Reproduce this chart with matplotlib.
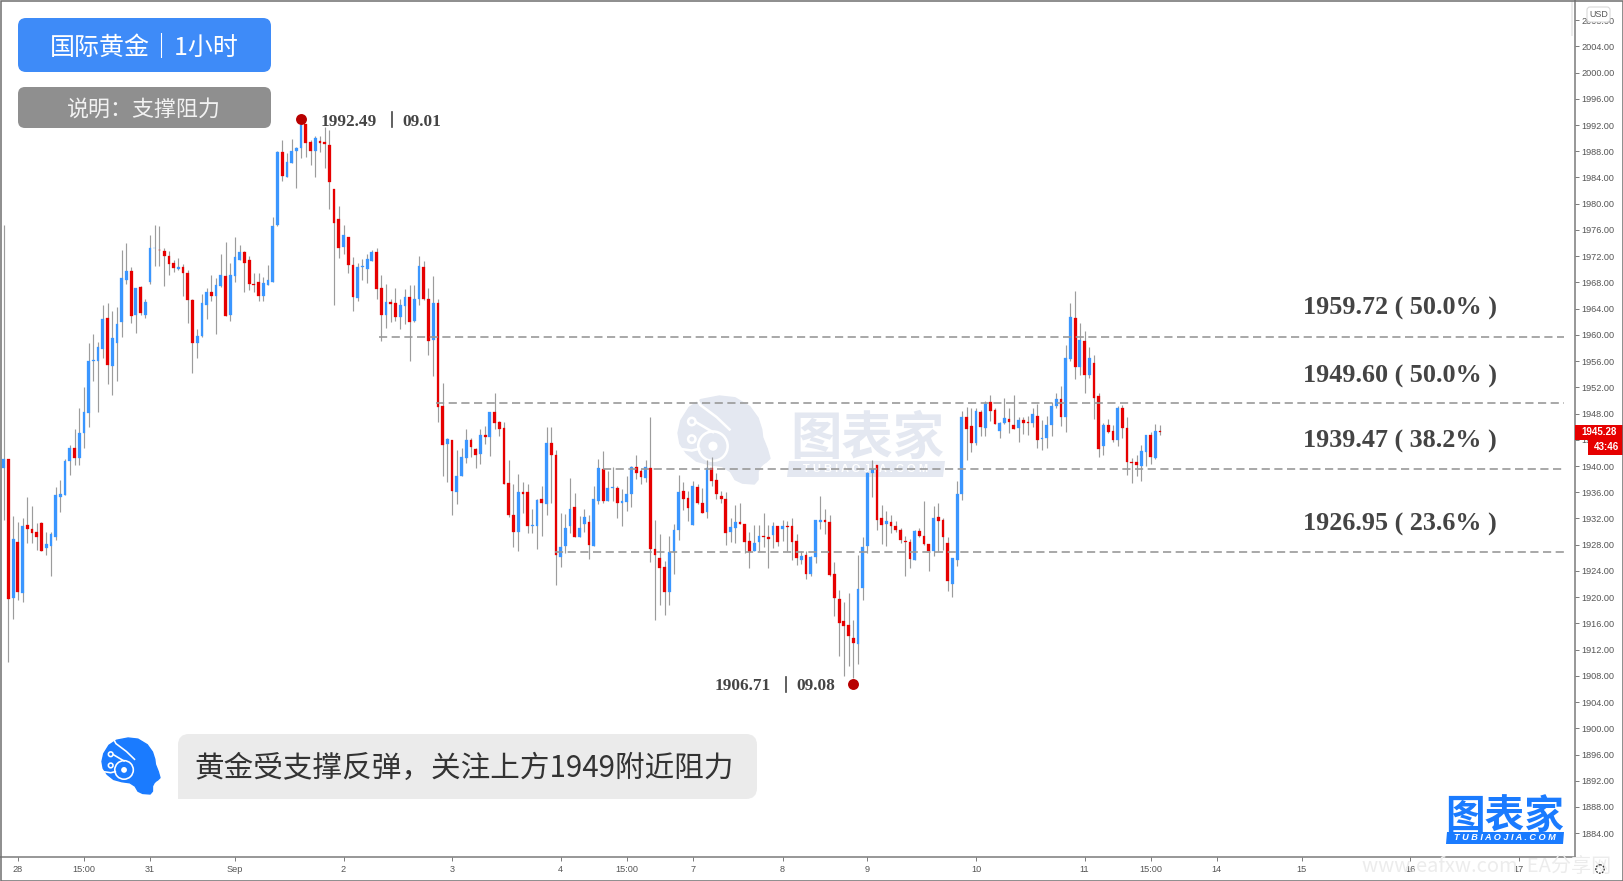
import matplotlib
matplotlib.use("Agg")
import matplotlib.pyplot as plt
import numpy as np
from matplotlib.patches import FancyBboxPatch, PathPatch, Circle, Rectangle, Polygon
from matplotlib.path import Path

plt.rcParams['font.family'] = ['Noto Sans CJK SC', 'DejaVu Sans']

# hourly candles
opens = [
    1939.7,1941.0,1919.8,1928.4,1920.6,1931.0,1930.4,1929.9,1931.3,1927.5,
    1927.8,1929.2,1935.3,1935.6,1940.7,1942.7,1941.2,1945.0,1948.1,1956.0,
    1956.0,1957.9,1962.5,1955.3,1958.8,1962.0,1968.4,1969.7,1963.0,1967.3,
    1963.1,1968.0,1973.2,1973.0,1972.8,1972.1,1970.9,1970.1,1970.3,1969.5,
    1965.3,1958.7,1959.8,1964.6,1966.5,1966.0,1967.5,1969.0,1963.0,1969.0,
    1971.4,1972.7,1971.4,1967.7,1968.0,1966.0,1967.6,1968.1,1976.8,1987.9,
    1984.1,1986.2,1988.0,1988.5,1992.1,1989.4,1988.0,1989.6,1989.4,1989.0,
    1982.2,1977.6,1973.4,1974.9,1970.6,1965.6,1970.4,1970.0,1971.3,1972.6,
    1967.1,1963.0,1965.0,1964.8,
    1962.7,1964.4,1965.7,1962.1,1965.4,1970.4,1965.5,1959.2,1964.8,1949.2,
    1943.3,1944.0,1936.0,1938.4,1941.2,1944.0,1942.6,1941.8,1944.7,1944.4,
    1948.3,1946.7,1945.8,1937.4,1932.5,1929.9,1936.0,1936.0,1930.8,1930.8,
    1934.9,1934.2,1943.5,1941.7,1926.1,1927.8,1930.8,1933.7,1929.2,1931.1,
    1931.4,1927.8,1934.7,1939.6,1934.7,1936.6,1936.7,1934.4,1934.5,1935.7,
    1939.9,1939.2,1938.2,1939.7,1927.4,1926.0,1924.6,1920.8,1926.9,1930.2,
    1936.2,1935.1,1931.0,1936.8,1934.4,1933.0,1939.7,1937.8,1935.5,1935.0,
    1929.9,1930.5,1931.5,1931.2,1928.6,1927.1,1928.4,1929.4,1929.2,1929.5,
    1930.8,
    1930.4,1930.9,1930.8,1928.6,1925.7,1926.4,1923.6,1926.1,1931.5,1931.7,
    1931.5,1923.5,1919.7,1916.3,1915.8,1913.7,1912.9,1921.4,1927.8,1938.9,
    1940.1,1932.0,1931.1,1931.5,1930.9,1930.3,1928.6,1928.4,1925.6,1930.1,
    1929.4,1928.1,1927.1,1932.2,1931.8,1928.3,1922.0,1925.7,1935.7,1947.4,
    1946.1,1943.5,1948.3,1945.8,1949.7,1948.5,1945.4,1946.5,1947.2,1946.3,
    1945.8,1947.0,1946.7,1946.6,1947.7,1944.1,1944.2,1946.2,1949.1,1950.2,
    1947.4,1956.3,1962.5,1955.1,1959.0,1953.9,1955.7,1950.7,1943.0,1946.2,
    1945.4,1943.9,1948.8,1945.8,1940.6,1940.6,1940.0,1942.2,1944.8,1941.2,
    1945.3,
]
highs = [
    1976.7,1941.0,1932.3,1931.5,1932.1,1935.2,1933.9,1931.3,1931.4,1929.9,
    1929.9,1936.8,1937.8,1941.0,1943.2,1945.7,1948.8,1952.1,1958.7,1960.1,
    1958.9,1964.5,1964.8,1963.6,1964.2,1972.9,1974.0,1970.4,1967.2,1967.4,
    1965.4,1975.2,1976.7,1976.6,1973.3,1972.8,1971.4,1971.7,1970.8,1969.9,
    1965.4,1960.9,1966.3,1967.2,1969.2,1968.7,1972.3,1974.1,1970.9,1975.0,
    1973.7,1972.8,1972.1,1969.5,1969.4,1968.8,1970.6,1978.0,1988.1,1989.7,
    1987.8,1989.9,1988.6,1992.2,1992.1,1989.7,1990.3,1990.4,1991.7,1991.2,
    1982.2,1979.6,1976.8,1975.0,1971.9,1970.9,1971.6,1972.4,1973.0,1973.3,
    1969.1,1967.7,1965.4,1967.1,
    1965.4,1967.0,1967.6,1967.6,1972.0,1971.2,1967.2,1969.0,1965.4,1952.7,
    1944.2,1944.0,1942.5,1942.8,1945.7,1944.2,1942.7,1945.7,1946.1,1948.3,
    1951.2,1946.9,1946.7,1940.9,1937.3,1938.8,1937.6,1937.2,1933.4,1934.9,
    1936.9,1946.0,1945.9,1942.4,1932.8,1932.7,1938.1,1935.9,1932.4,1933.4,
    1932.6,1937.0,1941.0,1942.3,1939.3,1939.9,1936.9,1936.5,1938.4,1940.0,
    1941.7,1939.5,1940.9,1947.4,1931.8,1929.6,1925.5,1929.3,1931.2,1938.6,
    1937.5,1936.2,1937.7,1937.3,1936.7,1940.9,1941.4,1939.0,1936.2,1936.0,
    1932.0,1934.0,1934.3,1931.2,1929.9,1931.0,1931.0,1932.8,1931.0,1931.5,
    1930.9,
    1931.7,1931.6,1932.1,1929.7,1927.1,1927.1,1926.3,1931.7,1935.4,1933.4,
    1932.5,1925.4,1921.1,1919.3,1920.7,1916.5,1926.4,1929.1,1939.1,1940.9,
    1940.1,1934.1,1933.1,1932.6,1931.6,1930.6,1929.3,1928.8,1930.2,1930.5,
    1934.6,1928.1,1933.9,1934.3,1932.1,1929.1,1926.0,1937.7,1948.4,1949.0,
    1948.9,1948.9,1948.6,1949.9,1950.8,1948.9,1946.7,1950.3,1948.9,1950.8,
    1947.4,1947.4,1947.6,1948.8,1949.4,1947.0,1947.7,1949.7,1951.1,1952.2,
    1958.4,1964.8,1966.7,1961.8,1960.6,1958.1,1956.9,1951.2,1946.5,1947.2,
    1946.2,1949.2,1949.3,1947.4,1941.2,1941.7,1943.2,1944.8,1945.2,1946.4,
    1946.2,
]
lows = [
    1931.7,1910.1,1916.6,1919.6,1919.3,1928.2,1928.2,1927.2,1927.1,1926.4,
    1923.3,1928.7,1933.0,1935.6,1938.7,1940.2,1940.2,1942.7,1945.9,1953.0,
    1948.2,1956.5,1952.5,1950.8,1952.9,1959.7,1967.7,1961.8,1960.3,1963.1,
    1962.6,1967.7,1970.5,1970.5,1967.5,1969.2,1969.6,1969.9,1965.9,1961.8,
    1954.2,1956.5,1959.7,1962.4,1965.2,1960.2,1967.3,1962.9,1962.1,1968.0,
    1971.4,1966.5,1966.8,1966.5,1965.2,1965.2,1967.6,1968.1,1976.6,1983.5,
    1984.1,1986.2,1982.4,1986.9,1987.2,1985.9,1984.1,1987.9,1985.4,1979.2,
    1964.5,1971.7,1972.4,1969.5,1963.6,1965.2,1968.3,1967.9,1971.2,1965.5,
    1959.0,1961.0,1962.0,1962.1,
    1960.9,1961.6,1956.0,1962.0,1964.5,1965.3,1957.0,1953.7,1946.7,1938.5,
    1937.6,1932.6,1934.2,1938.4,1940.5,1941.3,1939.7,1940.3,1943.4,1941.5,
    1945.6,1944.6,1937.3,1932.2,1927.7,1927.1,1932.8,1929.8,1929.8,1927.4,
    1929.3,1932.6,1934.3,1921.9,1924.6,1926.8,1929.8,1929.2,1929.2,1929.9,
    1925.8,1927.8,1934.2,1934.4,1934.7,1934.7,1932.0,1930.8,1933.2,1933.8,
    1938.0,1937.2,1937.5,1925.4,1916.5,1918.8,1917.3,1918.8,1923.6,1928.7,
    1933.3,1931.6,1931.0,1934.2,1932.8,1932.0,1937.0,1934.9,1934.3,1928.0,
    1928.4,1928.3,1931.1,1926.8,1924.5,1927.1,1927.1,1927.6,1924.5,1927.5,
    1927.8,
    1928.6,1927.1,1925.6,1924.9,1925.0,1922.7,1923.2,1925.2,1930.4,1929.6,
    1923.3,1917.2,1911.1,1907.9,1909.5,1907.7,1909.8,1919.6,1926.7,1935.3,
    1930.3,1928.1,1927.8,1929.8,1930.0,1928.3,1923.2,1924.5,1925.6,1929.2,
    1928.0,1924.0,1926.2,1927.1,1927.2,1921.0,1920.0,1924.7,1934.8,1940.9,
    1942.2,1943.2,1944.6,1944.6,1946.9,1946.4,1944.2,1946.4,1945.1,1945.7,
    1943.7,1944.9,1944.7,1945.9,1942.8,1942.4,1942.8,1944.6,1948.9,1946.1,
    1945.2,1956.0,1953.3,1953.9,1951.1,1953.4,1947.1,1941.4,1941.7,1945.1,
    1943.7,1943.1,1944.3,1938.6,1937.4,1938.5,1937.7,1940.0,1940.3,1941.0,
    1944.7,
]
closes = [
    1941.0,1919.7,1928.8,1920.8,1930.9,1930.4,1929.8,1929.1,1927.1,1928.1,
    1929.6,1935.6,1935.7,1940.8,1942.7,1941.2,1945.0,1948.3,1956.0,1956.1,
    1958.2,1962.4,1955.4,1959.5,1961.6,1968.6,1969.7,1962.9,1967.1,1963.4,
    1965.0,1973.2,1973.3,1972.9,1972.0,1970.8,1970.2,1970.4,1969.5,1965.3,
    1958.7,1959.9,1964.8,1966.5,1965.9,1967.6,1969.2,1962.9,1969.1,1971.8,
    1972.7,1971.0,1967.8,1967.6,1966.0,1967.9,1968.3,1976.6,1987.9,1984.3,
    1986.3,1988.0,1988.5,1992.0,1989.3,1988.0,1990.0,1989.3,1989.1,1983.3,
    1977.1,1973.3,1975.2,1970.7,1965.8,1970.4,1970.5,1971.5,1972.6,1967.0,
    1963.1,1965.0,1964.7,1962.8,
    1964.6,1965.7,1962.0,1965.4,1970.5,1965.4,1959.1,1964.8,1949.0,1943.2,
    1944.1,1936.2,1938.4,1941.4,1943.9,1942.9,1941.7,1944.8,1944.4,1948.2,
    1946.6,1945.7,1937.3,1932.5,1929.9,1936.0,1935.8,1930.8,1931.0,1934.8,
    1934.3,1943.5,1941.7,1926.4,1927.7,1930.6,1933.5,1929.2,1930.5,1932.2,
    1927.9,1934.9,1939.7,1934.6,1936.7,1936.8,1934.4,1934.7,1935.8,1939.9,
    1939.0,1938.3,1939.8,1927.3,1926.4,1924.5,1920.8,1926.9,1930.2,1936.0,
    1935.0,1933.6,1936.9,1934.3,1932.8,1939.7,1937.7,1935.7,1934.9,1929.8,
    1930.7,1931.5,1931.2,1928.4,1926.9,1928.3,1929.3,1929.2,1928.9,1930.9,
    1928.4,
    1930.9,1930.7,1928.4,1925.9,1926.3,1923.6,1926.1,1931.7,1931.7,1931.4,
    1923.4,1919.8,1916.1,1915.6,1914.0,1913.0,1921.2,1927.7,1939.0,1939.6,
    1931.7,1931.0,1931.6,1930.9,1930.3,1928.7,1928.4,1925.8,1930.1,1929.4,
    1928.1,1927.0,1932.0,1931.6,1929.1,1922.5,1925.9,1935.8,1947.5,1945.6,
    1943.5,1948.4,1945.9,1949.4,1948.4,1946.4,1946.5,1947.3,1946.7,1945.7,
    1947.0,1946.6,1946.6,1947.9,1943.9,1944.2,1946.3,1949.1,1950.2,1947.4,
    1956.4,1962.7,1955.1,1959.2,1953.9,1956.4,1950.3,1942.6,1946.3,1945.2,
    1943.9,1948.9,1945.8,1940.6,1940.4,1940.1,1942.3,1944.8,1941.3,1945.3,
    1945.2,
]

# horizontal levels
level_values = [1959.72, 1949.60, 1939.47, 1926.95]
level_starts = [79.5, 91.6, 127, 116.8]
level_end = 330.6
level_labels = ['1959.72 ( 50.0% )', '1949.60 ( 50.0% )', '1939.47 ( 38.2% )', '1926.95 ( 23.6% )']
level_label_y = [308, 376, 441, 524]

# marked extremes
extreme_bars = [63, 180]
extreme_values = [1992.9, 1906.71]

x_tick_bars = [3, 17, 31, 49, 72, 95, 118, 132, 146, 165, 183, 206, 229, 243, 257, 275, 298, 321]
x_tick_labels = ['28', '15:00', '31', 'Sep', '2', '3', '4', '15:00', '7', '8', '9', '10', '11',
                 '15:00', '14', '15', '16', '17']
y_ticks = list(range(1884, 2012, 4))

W, H = 1623, 881
UP = '#3a96ff'
DOWN = '#e60000'
AXIS = '#7a7a7a'
TICK_TEXT = '#555555'
LOGO = '#1a7bff'
WATER = '#e4e8f1'
SERIF = ['Liberation Serif', 'DejaVu Serif']

fig = plt.figure(figsize=(W / 100, H / 100), dpi=100, facecolor='white')


def pixel_axes(zorder):
    a = fig.add_axes([0, 0, 1, 1], zorder=zorder)
    a.set_xlim(0, W)
    a.set_ylim(H, 0)
    a.axis('off')
    a.patch.set_alpha(0)
    return a


def draw_head(a, x0, y0, w, h, color, line='white', zorder=2):
    # head silhouette, same one for the logo and the big watermark
    outline = [(.45, 0), (.62, .02), (.78, .12), (.87, .25), (.91, .38), (.92, .47), (.97, .6), (1.0, .71),
               (.96, .75), (.93, .77), (.9, .8), (.87, .86), (.87, .95), (.83, 1.0), (.7, .99), (.62, .95),
               (.57, .86), (.48, .8), (.34, .78), (.2, .74), (.09, .65), (.02, .54), (0, .42), (.03, .28),
               (.12, .13), (.25, .04)]
    pts = [(x0 + px * w, y0 + py * h) for px, py in outline]
    a.add_patch(Polygon(pts, closed=True, fc=color, ec=color, lw=1, joinstyle='round', zorder=zorder))
    lw = max(w / 50, .8)
    a.add_patch(Circle((x0 + .38 * w, y0 + .57 * h), .16 * w, fc='none', ec=line, lw=lw, zorder=zorder + 1))
    a.add_patch(Circle((x0 + .38 * w, y0 + .57 * h), .05 * w, fc=line, ec=line, lw=0, zorder=zorder + 1))
    a.add_patch(Circle((x0 + .15 * w, y0 + .29 * h), .04 * w, fc='none', ec=line, lw=lw, zorder=zorder + 1))
    a.add_patch(Circle((x0 + .15 * w, y0 + .49 * h), .04 * w, fc='none', ec=line, lw=lw, zorder=zorder + 1))
    a.plot([x0 + .2 * w, x0 + .33 * w, x0 + .38 * w], [y0 + .3 * h, y0 + .38 * h, y0 + .41 * h],
           color=line, lw=lw, zorder=zorder + 1)
    a.plot([x0 + .02 * w, x0 + .15 * w, x0 + .23 * w], [y0 + .6 * h, y0 + .62 * h, y0 + .6 * h],
           color=line, lw=lw, zorder=zorder + 1)
    a.plot([x0 + .2 * w, x0 + .24 * w, x0 + .42 * w, x0 + .56 * w], [y0 + .02 * h, y0 + .1 * h, y0 + .24 * h, y0 + .38 * h],
           color=line, lw=lw, zorder=zorder + 1)


# watermark sits behind the candles
ax_bg = pixel_axes(0)
draw_head(ax_bg, 678, 396, 92, 88, WATER)
ax_bg.text(867, 438, '图表家', fontsize=37, fontweight='bold', color=WATER, ha='center', va='center')
ax_bg.add_patch(Polygon([(789, 461), (945, 461), (943, 477), (787, 477)], closed=True, fc=WATER, ec='none'))
ax_bg.text(866, 469, 'T U B I A O J I A . C O M', fontsize=8, fontweight='bold', color='white',
           family=['Liberation Sans'], ha='center', va='center')

# price chart
px_per_bar = 4.72
px_first = 3.7
plot_right = 1575
plot_bottom = 857
price_at_ref = 1984
ref_px = 177.5
px_per_price = 6.557
ax = fig.add_axes([0, 1 - plot_bottom / H, plot_right / W, plot_bottom / H], zorder=1)
ax.patch.set_alpha(0)
ax.set_xlim(-px_first / px_per_bar, (plot_right - px_first) / px_per_bar)
ax.set_ylim(price_at_ref - (plot_bottom - ref_px) / px_per_price, price_at_ref + ref_px / px_per_price)

bars = np.arange(len(opens))
o = np.array(opens)
c = np.array(closes)
colors = [UP if b >= a else DOWN for a, b in zip(o, c)]
ax.vlines(bars, lows, highs, color='#9c9c9c', lw=0.85, zorder=2)
ax.bar(bars, np.abs(c - o), bottom=np.minimum(o, c), width=0.58, color=colors, edgecolor=colors, lw=0.2, zorder=3)

for value, start in zip(level_values, level_starts):
    ax.plot([start, level_end], [value, value], color='#999999', lw=1.2, ls=(0, (4.9, 2.7)), zorder=4)

ax.scatter(extreme_bars, extreme_values, s=62, color='#b80000', linewidths=0, zorder=5)

for side in ['top', 'left']:
    ax.spines[side].set_visible(False)
for side in ['bottom', 'right']:
    ax.spines[side].set_color(AXIS)
    ax.spines[side].set_linewidth(1.1)
ax.yaxis.tick_right()
ax.set_yticks(y_ticks)
ax.set_yticklabels([f'{v:.2f}' for v in y_ticks], fontsize=6.6, color=TICK_TEXT, family=['Liberation Sans'])
ax.set_xticks(x_tick_bars)
ax.set_xticklabels(x_tick_labels, fontsize=6.6, color=TICK_TEXT, family=['Liberation Sans'])
ax.tick_params(axis='y', length=3, width=0.7, color=AXIS, pad=1.8)
ax.tick_params(axis='x', length=3, width=0.7, color=AXIS, pad=3)

# everything pasted over the chart
top = pixel_axes(3)
top.add_patch(FancyBboxPatch((25, 25), 239, 40, boxstyle='round,pad=7,rounding_size=8', fc='#3e8bf8', ec='none'))
top.text(144.5, 48, '国际黄金｜1小时', fontsize=18, color='white', ha='center', va='center')
top.add_patch(FancyBboxPatch((24, 93), 241, 29, boxstyle='round,pad=6,rounding_size=7', fc='#8f8f8f', ec='none'))
top.text(143.5, 109.5, '说明：支撑阻力', fontsize=15.8, color='#f2f2f2', ha='center', va='center')

top.text(321, 122.5, '1992.49', fontsize=12.4, fontweight='bold', family=SERIF, color='#444444', va='center')
top.plot([392, 392], [112, 127], color='#444444', lw=1.2)
top.text(402, 122.5, '09.01', fontsize=12.4, fontweight='bold', family=SERIF, color='#444444', va='center')
top.text(715, 686.5, '1906.71', fontsize=12.4, fontweight='bold', family=SERIF, color='#444444', va='center')
top.plot([786, 786], [677, 692], color='#444444', lw=1.2)
top.text(796, 686.5, '09.08', fontsize=12.4, fontweight='bold', family=SERIF, color='#444444', va='center')

for label, y in zip(level_labels, level_label_y):
    top.text(1303, y, label, fontsize=18.8, fontweight='bold', family=SERIF, color='#444444', va='center')

# comment bubble, square bottom-left corner
bx0, bx1, by0, by1, r = 178, 757, 734, 799, 11
verts = [(bx0 + r, by0), (bx1 - r, by0), (bx1, by0), (bx1, by0 + r), (bx1, by1 - r), (bx1, by1), (bx1 - r, by1),
         (bx0, by1), (bx0, by0 + r), (bx0, by0), (bx0 + r, by0)]
codes = [Path.MOVETO, Path.LINETO, Path.CURVE3, Path.CURVE3, Path.LINETO, Path.CURVE3, Path.CURVE3,
         Path.LINETO, Path.LINETO, Path.CURVE3, Path.CURVE3]
top.add_patch(PathPatch(Path(verts, codes), fc='#ebebeb', ec='none'))
top.text(464, 768.5, '黄金受支撑反弹，关注上方1949附近阻力', fontsize=21.3, color='#333333', ha='center', va='center')
draw_head(top, 102, 738, 58, 56, LOGO)

# logo bottom right
top.text(1505, 816, '图表家', fontsize=28.5, fontweight='bold', color=LOGO, ha='center', va='center')
top.add_patch(Polygon([(1447, 832), (1564, 832), (1563, 844), (1446, 844)], closed=True, fc=LOGO, ec='none'))
top.text(1505, 838, 'T U B I A O J I A . C O M', fontsize=6.6, fontweight='bold', style='italic', color='white',
         family=['Liberation Sans'], ha='center', va='center')
top.text(1362, 867, 'www.eafxw.com  EA分享网', fontsize=14.5, color='#ececec', va='center', zorder=0)

# right scale furniture
top.add_patch(FancyBboxPatch((1588, 8), 21, 13, boxstyle='round,pad=1,rounding_size=3', fc='white', ec='#d8d8d8', lw=0.8))
top.text(1598.5, 14.5, 'USD', fontsize=6.4, color=TICK_TEXT, family=['Liberation Sans'], ha='center', va='center')
top.add_patch(Rectangle((1575, 425), 48, 14.5, fc='#e60000', ec='none'))
top.text(1599, 432, '1945.28', fontsize=7, fontweight='bold', color='white', family=['Liberation Sans'], ha='center', va='center')
top.add_patch(Rectangle((1588, 439.5), 35, 15, fc='#e60000', ec='none'))
top.text(1606, 447, '43:46', fontsize=7, fontweight='bold', color='white', family=['Liberation Sans'], ha='center', va='center')
top.add_patch(Rectangle((1571, 1), 2, 35, fc='#ececec', ec='none'))
top.add_patch(Circle((1600, 869), 4.2, fc='none', ec='#333333', lw=0.9, ls=(0, (1.5, 1))))
top.add_patch(Rectangle((0.5, 0.5), W - 1, H - 1, fc='none', ec='#6f6f6f', lw=1.1))

fig.savefig('out.png', dpi=100)
